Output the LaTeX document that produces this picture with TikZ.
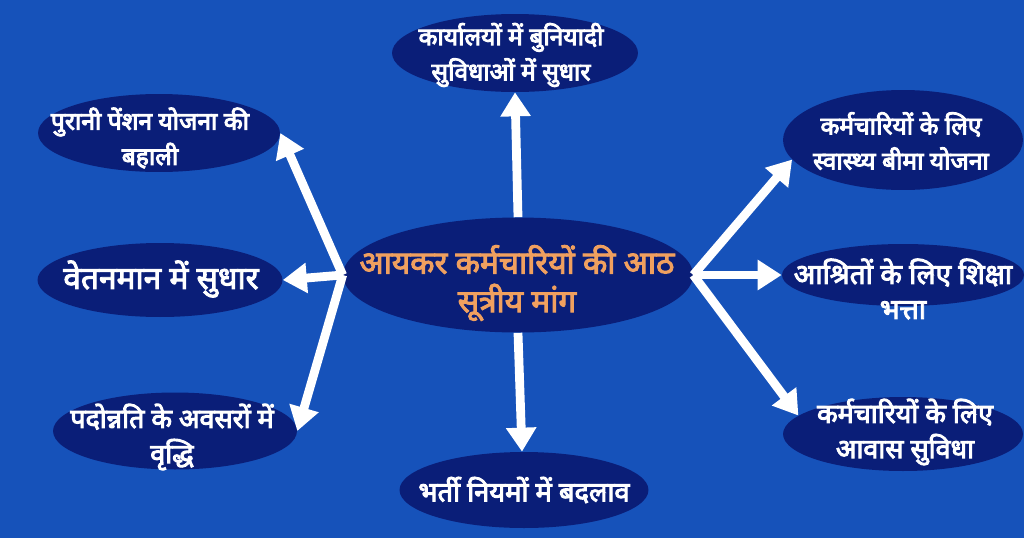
\documentclass[tikz,border=0pt]{standalone}
\usepackage{fontspec}
\usepackage{tikz}
\usetikzlibrary{shapes.geometric,arrows.meta}

\newfontfamily\hindib[Script=Devanagari]{Noto Sans}
\newcommand\heavytext{\special{pdf:literal direct 2 Tr 0.55 w}}

\definecolor{bgblue}{RGB}{22,82,186}
\definecolor{navy}{RGB}{10,30,120}
\definecolor{saffron}{RGB}{240,160,95}

\tikzset{
	bubble/.style={shape=ellipse, fill=navy, inner sep=0pt},
	lbl/.style={text=white, font=\hindib\fontsize{#1}{20}\selectfont\heavytext, align=center},
	lbl/.default=14,
	link/.style={draw=white, line width=5pt, -{Triangle[width=0.58cm, length=0.48cm]}},
}

\begin{document}
\begin{tikzpicture}[x=0.02cm, y=-0.02cm]
	\fill[bgblue] (0,0) rectangle (1024,538);
	\useasboundingbox (0,0) rectangle (1024,538);

	% ellipses
	\node[bubble, minimum width=7cm, minimum height=2.3cm] (cen) at (518,275) {};
	\node[bubble, minimum width=4.92cm, minimum height=1.56cm] (top) at (515,53) {};
	\node[bubble, minimum width=4.84cm, minimum height=1.56cm] (tl) at (159,133) {};
	\node[bubble, minimum width=4.9cm, minimum height=1.48cm] (lm) at (160,280) {};
	\node[bubble, minimum width=4.88cm, minimum height=1.54cm] (bl) at (175,431) {};
	\node[bubble, minimum width=4.98cm, minimum height=1.52cm] (bot) at (524,490) {};
	\node[bubble, minimum width=4.8cm, minimum height=2cm] (tr) at (903,140) {};
	\node[bubble, minimum width=4.84cm, minimum height=1.24cm] (rm) at (903,275) {};
	\node[bubble, minimum width=4.8cm, minimum height=1.48cm] (br) at (903,434) {};

	% texts
	\node[lbl, text=saffron, font=\hindib\fontsize{18}{22}\selectfont\heavytext] (cen-t) at (517,283) {आयकर कर्मचारियों की आठ\\सूत्रीय मांग};
	\node[lbl] (top-t) at (511,55) {कार्यालयों में बुनियादी\\सुविधाओं में सुधार};
	\node[lbl] (tl-t) at (150,138) {पुरानी पेंशन योजना की\\बहाली};
	\node[lbl=18] (lm-t) at (161,279) {वेतनमान में सुधार};
	\node[lbl=15.3] (bl-t) at (172,437) {पदोन्नति के अवसरों में\\वृद्धि};
	\node[lbl=15.5] (bot-t) at (524,490) {भर्ती नियमों में बदलाव};
	\node[lbl] (tr-t) at (901,141) {कर्मचारियों के लिए\\स्वास्थ्य बीमा योजना};
	\node[lbl=16] (rm-t) at (903,289) {आश्रितों के लिए शिक्षा\\भत्ता};
	\node[lbl=15.3] (br-t) at (905,432) {कर्मचारियों के लिए\\आवास सुविधा};

	% arrows
	\path (cen.north) edge[link] (top.south);
	\path (cen.south) edge[link] (bot.93);
	\path (cen.west) edge[link] (tl.east);
	\path (cen.west) edge[link] (lm.east);
	\path (cen.west) edge[link] (bl.east);
	\path (cen.east) edge[link] (tr.190);
	\path (cen.east) edge[link] (rm.west);
	\path (cen.east) edge[link] (br.170);
\end{tikzpicture}
\end{document}
